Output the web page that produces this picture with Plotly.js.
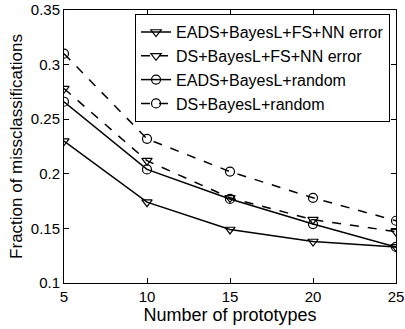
<!DOCTYPE html>
<html>
<head>
<meta charset="utf-8">
<script src="https://cdn.plot.ly/plotly-3.0.1.min.js"></script>
<style>html,body{margin:0;padding:0;background:#fff;}#chart{width:405px;height:329px;}</style>
</head>
<body>
<div id="chart"></div>
<script>
const prototypes = [5, 10, 15, 20, 25];
const eadsFsNn = [0.230, 0.174, 0.149, 0.138, 0.133];
const dsFsNn = [0.278, 0.212, 0.178, 0.158, 0.147];
const eadsRandom = [0.266, 0.204, 0.177, 0.154, 0.133];
const dsRandom = [0.310, 0.232, 0.202, 0.178, 0.157];
const seriesNames = ["EADS+BayesL+FS+NN error", "DS+BayesL+FS+NN error", "EADS+BayesL+random", "DS+BayesL+random"];
const yTicks = [0.1, 0.15, 0.2, 0.25, 0.3, 0.35];

function tr(y, name, dash, symbol) {
  return {
    x: prototypes, y: y, name: name, type: 'scatter', mode: 'lines+markers',
    line: {color: '#000', width: 1.5, dash: dash},
    marker: {symbol: symbol, size: 9, color: '#000', line: {color: '#000', width: 1.2}}
  };
}
const data = [
  tr(eadsFsNn, seriesNames[0], 'solid', 'triangle-down-open'),
  tr(dsFsNn, seriesNames[1], 'dash', 'triangle-down-open'),
  tr(eadsRandom, seriesNames[2], 'solid', 'circle-open'),
  tr(dsRandom, seriesNames[3], 'dash', 'circle-open')
];
const fam = "'Liberation Sans', Arial, Helvetica, sans-serif";
function f(size) { return {family: fam, size: size, color: '#000'}; }
const layout = {
  width: 405, height: 329,
  margin: {l: 64, r: 9, t: 10, b: 46},
  paper_bgcolor: '#fff', plot_bgcolor: '#fff',
  font: f(14),
  showlegend: true,
  legend: {
    x: 0.214, y: 0.985, xanchor: 'left', yanchor: 'top',
    bgcolor: '#fff', bordercolor: '#000', borderwidth: 1,
    font: f(16),
    tracegroupgap: 0, itemwidth: 30
  },
  xaxis: {
    range: [5, 25], tickvals: prototypes, ticktext: prototypes.map(String),
    ticks: 'inside', ticklen: 5, tickcolor: '#000', showline: true, linecolor: '#000', linewidth: 1,
    mirror: 'ticks', showgrid: false, zeroline: false,
    tickfont: f(15),
    title: {text: 'Number of prototypes', font: f(18), standoff: 1}
  },
  yaxis: {
    range: [0.1, 0.35], tickvals: yTicks, ticktext: yTicks.map(String),
    ticks: 'inside', ticklen: 5, tickcolor: '#000', showline: true, linecolor: '#000', linewidth: 1,
    mirror: 'ticks', showgrid: false, zeroline: false,
    tickfont: f(15),
    title: {text: 'Fraction of missclassifications', font: f(17), standoff: 3}
  }
};
Plotly.newPlot('chart', data, layout, {displayModeBar: false, staticPlot: true});
</script>
</body>
</html>
